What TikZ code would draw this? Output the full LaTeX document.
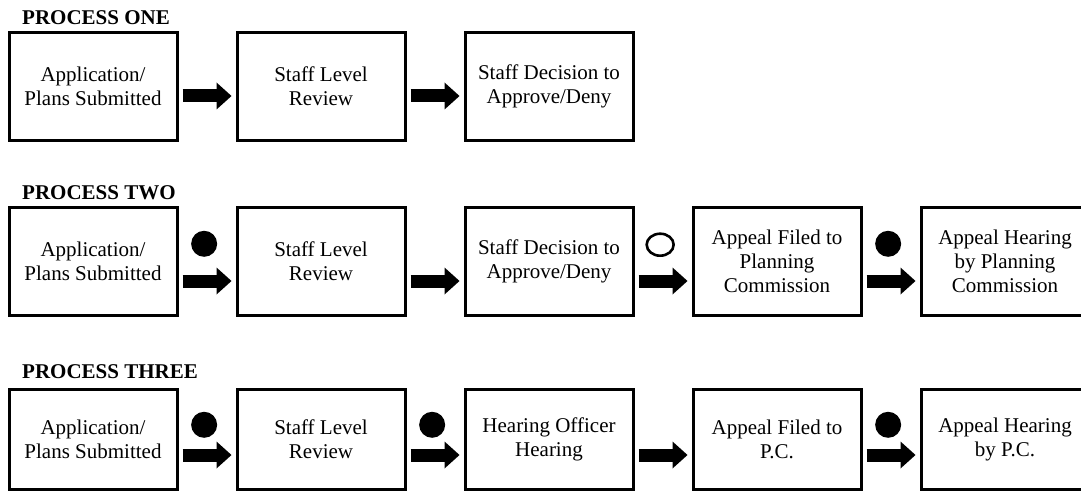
\documentclass[tikz,border=0pt]{standalone}
\usepackage{fontspec}
\setmainfont{Liberation Serif}
\usetikzlibrary{positioning, arrows.meta, shapes.geometric}

\begin{document}
\begin{tikzpicture}[x=1pt,y=1pt,node distance=57pt,font=\fontsize{21}{24}\selectfont]

	\tikzstyle{stage}=[draw=black,line width=3pt,minimum width=168pt,minimum height=108pt,align=center,inner sep=2pt]
	\tikzstyle{title}=[font=\fontsize{21}{24}\selectfont\bfseries,anchor=base west,inner sep=0pt]
	\tikzstyle{block}=[line width=13pt,shorten <=4pt,shorten >=4pt,-{Triangle[length=15pt,width=27pt,line width=0pt]}]
	\tikzstyle{bigdot}=[circle,fill=black,minimum size=26pt,inner sep=0pt]
	\tikzstyle{opendot}=[ellipse,draw=black,line width=2.6pt,minimum width=27pt,minimum height=22pt,inner sep=0pt]

	\useasboundingbox (0,0) rectangle (1081,491);

	% process one
	\node[stage] (app1) at (93,404.5) {Application/\\Plans Submitted};
	\node[stage,right=of app1] (rev1) {Staff Level\\Review};
	\node[stage,right=of rev1] (dec1) {Staff Decision to\\Approve/Deny};
	\node[title] (t1) at ([xshift=14.5pt,yshift=6pt]app1.north west) {PROCESS ONE};

	\draw[block] ([yshift=-9.5pt]app1.east) -- ([yshift=-9.5pt]rev1.west);
	\draw[block] ([yshift=-9.5pt]rev1.east) -- ([yshift=-9.5pt]dec1.west);

	% process two
	\node[stage] (app2) at (93,230) {Application/\\Plans Submitted};
	\node[stage,right=of app2] (rev2) {Staff Level\\Review};
	\node[stage,right=of rev2] (dec2) {Staff Decision to\\Approve/Deny};
	\node[stage,right=of dec2] (fil2) {Appeal Filed to\\Planning\\Commission};
	\node[stage,right=of fil2] (hear2) {Appeal Hearing\\by Planning\\Commission};
	\node[title] (t2) at ([xshift=14.5pt,yshift=6pt]app2.north west) {PROCESS TWO};

	\draw[block] ([yshift=-20pt]app2.east) -- coordinate[pos=0.45] (m21) ([yshift=-20pt]rev2.west);
	\draw[block] ([yshift=-20pt]rev2.east) -- ([yshift=-20pt]dec2.west);
	\draw[block] ([yshift=-20pt]dec2.east) -- coordinate[pos=0.45] (m23) ([yshift=-20pt]fil2.west);
	\draw[block] ([yshift=-20pt]fil2.east) -- coordinate[pos=0.45] (m24) ([yshift=-20pt]hear2.west);
	\node[bigdot,above=24pt of m21] (d21) {};
	\node[opendot,above=24pt of m23] (o23) {};
	\node[bigdot,above=24pt of m24] (d24) {};

	% process three
	\node[stage,minimum height=100pt] (app3) at (93,52) {Application/\\Plans Submitted};
	\node[stage,minimum height=100pt,right=of app3] (rev3) {Staff Level\\Review};
	\node[stage,minimum height=100pt,right=of rev3] (off3) {Hearing Officer\\Hearing};
	\node[stage,minimum height=100pt,right=of off3] (fil3) {Appeal Filed to\\P.C.};
	\node[stage,minimum height=100pt,right=of fil3] (hear3) {Appeal Hearing\\by P.C.};
	\node[title] (t3) at ([xshift=14.5pt,yshift=9pt]app3.north west) {PROCESS THREE};

	\draw[block] ([yshift=-16pt]app3.east) -- coordinate[pos=0.45] (m31) ([yshift=-16pt]rev3.west);
	\draw[block] ([yshift=-16pt]rev3.east) -- coordinate[pos=0.45] (m32) ([yshift=-16pt]off3.west);
	\draw[block] ([yshift=-16pt]off3.east) -- ([yshift=-16pt]fil3.west);
	\draw[block] ([yshift=-16pt]fil3.east) -- coordinate[pos=0.45] (m34) ([yshift=-16pt]hear3.west);
	\node[bigdot,above=17pt of m31] (d31) {};
	\node[bigdot,above=17pt of m32] (d32) {};
	\node[bigdot,above=17pt of m34] (d34) {};
\end{tikzpicture}
\end{document}
